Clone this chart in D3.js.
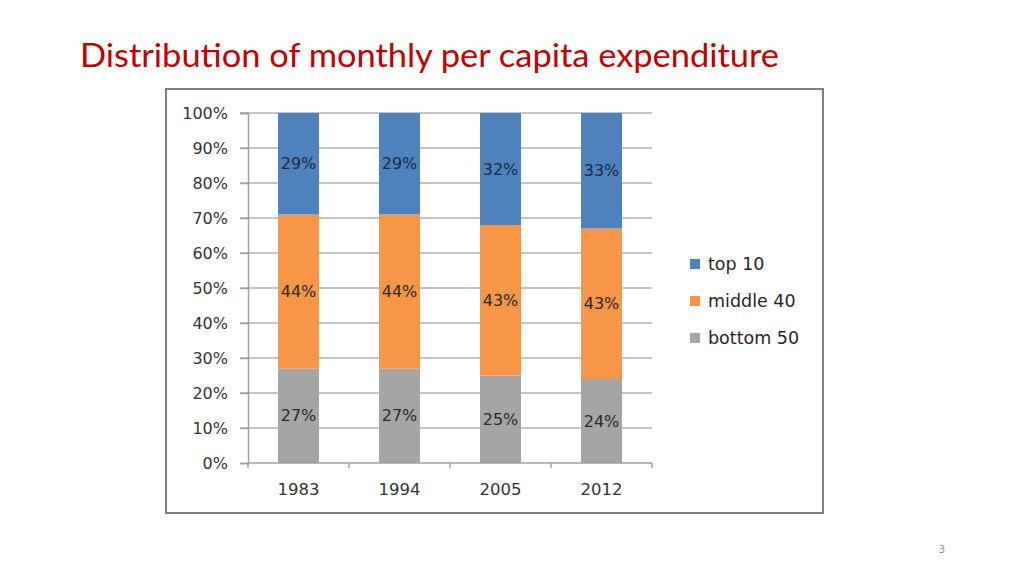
<!DOCTYPE html>
<html>
<head>
<meta charset="utf-8">
<script src="https://cdn.jsdelivr.net/npm/d3@7"></script>
<style>
  body { margin: 0; background: #fff; }
  svg { display: block; }
</style>
</head>
<body>
<div id="chart"></div>
<script>
// data
const years = ["1983", "1994", "2005", "2012"];
const seriesNames = ["bottom 50", "middle 40", "top 10"];
const bottom50 = [27, 27, 25, 24];
const middle40 = [44, 44, 43, 43];
const top10 = [29, 29, 32, 33];
const yTicks = [0, 0.1, 0.2, 0.3, 0.4, 0.5, 0.6, 0.7, 0.8, 0.9, 1];

const colors = { "bottom 50": "#a5a5a5", "middle 40": "#f79646", "top 10": "#4f81bd" };
const labelColors = { "bottom 50": "#2a2a2a", "middle 40": "#2a2a2a", "top 10": "#1c2a44" };

const W = 1024, H = 576;
const svg = d3.select("#chart").append("svg")
  .attr("width", W).attr("height", H);

// title
svg.append("text")
  .attr("x", 80).attr("y", 67)
  .attr("textLength", 699).attr("lengthAdjust", "spacingAndGlyphs")
  .style("font", "32px Lato, sans-serif")
  .attr("fill", "#c00000")
  .text("Distribution of monthly per capita expenditure");

// chart frame
svg.append("rect")
  .attr("x", 166).attr("y", 89).attr("width", 657).attr("height", 424)
  .attr("fill", "#fff").attr("stroke", "#7f7f7f").attr("stroke-width", 2);

const table = years.map((y, i) => ({
  year: y,
  "bottom 50": bottom50[i],
  "middle 40": middle40[i],
  "top 10": top10[i]
}));
const stacked = d3.stack().keys(seriesNames).offset(d3.stackOffsetExpand)(table);

const x = d3.scaleBand().domain(years).range([248, 652])
  .paddingInner(0.594).paddingOuter(0.297);
const y = d3.scaleLinear().domain([0, 1]).range([463, 113]);

// gridlines
svg.append("g")
  .selectAll("line")
  .data(yTicks.filter(d => d > 0))
  .join("line")
  .attr("x1", 240).attr("x2", 652)
  .attr("y1", d => y(d)).attr("y2", d => y(d))
  .attr("stroke", "#b0b0b0").attr("stroke-width", 1.5);

// y axis
const yAxis = svg.append("g")
  .attr("transform", "translate(248,0)")
  .call(d3.axisLeft(y).tickValues(yTicks).tickFormat(d3.format(".0%")).tickSize(8).tickPadding(12));
yAxis.select(".domain").attr("stroke", "#a0a0a0").attr("stroke-width", 1.5);
yAxis.selectAll(".tick line").attr("stroke", "#a0a0a0").attr("stroke-width", 1.5);
yAxis.selectAll("text")
  .style("font", "16px 'DejaVu Sans', sans-serif")
  .attr("fill", "#333");

// bars
const layer = svg.append("g")
  .selectAll("g")
  .data(stacked)
  .join("g")
  .attr("fill", d => colors[d.key]);

layer.selectAll("rect")
  .data(d => d)
  .join("rect")
  .attr("x", d => x(d.data.year))
  .attr("width", x.bandwidth())
  .attr("y", d => y(d[1]))
  .attr("height", d => y(d[0]) - y(d[1]));

// segment labels
svg.append("g")
  .selectAll("g")
  .data(stacked)
  .join("g")
  .each(function (s) {
    d3.select(this).selectAll("text")
      .data(s)
      .join("text")
      .attr("x", d => x(d.data.year) + x.bandwidth() / 2)
      .attr("y", d => y((d[0] + d[1]) / 2))
      .attr("dy", "0.35em")
      .attr("text-anchor", "middle")
      .style("font", "16px 'DejaVu Sans', sans-serif")
      .attr("fill", labelColors[s.key])
      .text(d => d.data[s.key] + "%");
  });

// x axis
const xAxis = svg.append("g")
  .attr("transform", "translate(0,463)");
xAxis.append("line")
  .attr("x1", 248).attr("x2", 652)
  .attr("stroke", "#a0a0a0").attr("stroke-width", 1.5);
xAxis.selectAll(".sep")
  .data(d3.range(years.length + 1))
  .join("line")
  .attr("class", "sep")
  .attr("x1", i => 248 + i * x.step()).attr("x2", i => 248 + i * x.step())
  .attr("y1", 0).attr("y2", 5)
  .attr("stroke", "#a0a0a0").attr("stroke-width", 1.5);
xAxis.selectAll("text")
  .data(years)
  .join("text")
  .attr("x", d => x(d) + x.bandwidth() / 2)
  .attr("y", 32)
  .attr("text-anchor", "middle")
  .style("font", "16.5px 'DejaVu Sans', sans-serif")
  .attr("fill", "#333")
  .text(d => d);

// legend
const legendItems = ["top 10", "middle 40", "bottom 50"];
const legend = svg.append("g")
  .selectAll("g")
  .data(legendItems)
  .join("g")
  .attr("transform", (d, i) => `translate(690,${264 + i * 37})`);
legend.append("rect")
  .attr("x", 0).attr("y", -5).attr("width", 10).attr("height", 10)
  .attr("fill", d => colors[d]);
legend.append("text")
  .attr("x", 18).attr("dy", "0.35em")
  .style("font", "17.5px 'DejaVu Sans', sans-serif")
  .attr("fill", "#262626")
  .text(d => d);

// page number
svg.append("text")
  .attr("x", 942).attr("y", 553)
  .attr("text-anchor", "middle")
  .style("font", "11px 'Open Sans', sans-serif")
  .attr("fill", "#8c8c8c")
  .text("3");
</script>
</body>
</html>
